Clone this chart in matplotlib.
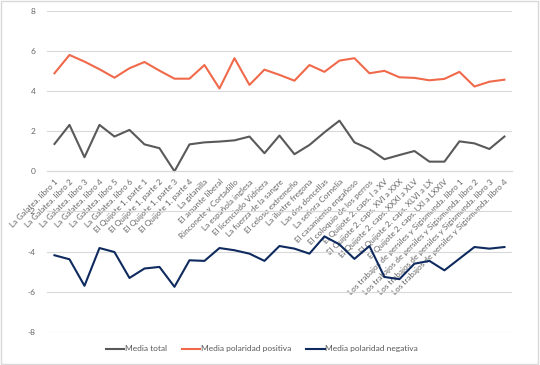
import matplotlib.pyplot as plt
import numpy as np
from matplotlib.patches import Rectangle

plt.rcParams['font.family'] = ['Lato', 'DejaVu Sans']

labels = [
    "La Galatea. libro 1", "La Galatea. libro 2", "La Galatea. libro 3",
    "La Galatea. libro 4", "La Galatea. libro 5", "La Galatea. libro 6",
    "El Quijote 1. parte 1", "El Quijote 1. parte 2", "El Quijote 1. parte 3",
    "El Quijote 1. parte 4", "La gitanilla", "El amante liberal",
    "Rinconete y Cortadillo", "La española inglesa", "El licenciado Vidriera",
    "La fuerza de la sangre", "El celoso extremeño", "La ilustre fregona",
    "Las dos doncellas", "La señora Cornelia", "El casamiento engañoso",
    "El coloquio de los perros", "El Quijote 2. caps. I a XV",
    "El Quijote 2. caps. XVI a XXX", "El Quijote 2. caps. XXXI a XLV",
    "El Quijote 2. caps. XLVI a LX", "El Quijote 2. caps. LXI a LXXIV",
    "Los trabajos de persiles y Sigismunda. libro 1",
    "Los trabajos de persiles y Sigismunda. libro 2",
    "Los trabajos de persiles y Sigismunda. libro 3",
    "Los trabajos de persiles y Sigismunda. libro 4",
]

media_total = [1.36, 2.31, 0.70, 2.31, 1.73, 2.06, 1.34, 1.15, 0.0, 1.34,
               1.44, 1.48, 1.54, 1.73, 0.90, 1.78, 0.85, 1.31, 1.94, 2.52,
               1.44, 1.11, 0.60, 0.81, 1.01, 0.48, 0.48, 1.49, 1.39, 1.11, 1.73]
media_pos = [4.88, 5.79, 5.46, 5.08, 4.66, 5.13, 5.44, 5.01, 4.61, 4.61,
             5.29, 4.12, 5.63, 4.30, 5.06, 4.80, 4.51, 5.29, 4.95, 5.51,
             5.63, 4.88, 5.00, 4.68, 4.65, 4.53, 4.60, 4.95, 4.22, 4.46, 4.56]
media_neg = [-4.18, -4.38, -5.70, -3.82, -4.02, -5.31, -4.84, -4.76, -5.75, -4.43,
             -4.46, -3.82, -3.93, -4.10, -4.46, -3.72, -3.85, -4.10, -3.24, -3.64,
             -4.36, -3.72, -5.26, -5.37, -4.60, -4.46, -4.93, -4.35, -3.77, -3.85, -3.77]

yticks = [-8, -6, -4, -2, 0, 2, 4, 6, 8]

fig = plt.figure(figsize=(5.4, 3.65), dpi=100)
ax = fig.add_axes([0.087, 0.0904, 0.861, 0.8806])

x = np.arange(len(labels))
ax.plot(x, media_total, color='#595959', lw=1.5, label='Media total')
ax.plot(x, media_pos, color='#F0694A', lw=1.5, label='Media polaridad positiva')
ax.plot(x, media_neg, color='#0E2A5E', lw=1.5, label='Media polaridad negativa')

ax.set_xlim(-0.5, len(labels) - 0.5)
ax.set_ylim(-8, 8)
ax.set_yticks(yticks)
ax.set_yticklabels([str(v) for v in yticks])
ax.grid(axis='y', color='#D9D9D9', lw=0.8)
ax.set_axisbelow(True)

for side in ['top', 'right', 'left']:
    ax.spines[side].set_visible(False)
ax.spines['bottom'].set_position(('data', 0))
ax.spines['bottom'].set_color('#D9D9D9')

ax.set_xticks(x)
ax.set_xticklabels(labels, rotation=45, ha='right', va='top',
                   rotation_mode='anchor', fontsize=5.9, color='#666666')
ax.tick_params(axis='x', length=0, pad=5)
ax.tick_params(axis='y', length=0, labelsize=6, labelcolor='#666666', pad=8)

fig.legend(loc='center', bbox_to_anchor=(0.485, 0.044), ncol=3, frameon=False,
           fontsize=6, handlelength=2.2, columnspacing=1.8, handletextpad=0.1,
           labelcolor='#595959')

fig.patches.append(Rectangle((0.002, 0.003), 0.995, 0.994, transform=fig.transFigure,
                             fill=False, edgecolor='#D9D9D9', lw=1))

fig.savefig('out.png', dpi=100)
